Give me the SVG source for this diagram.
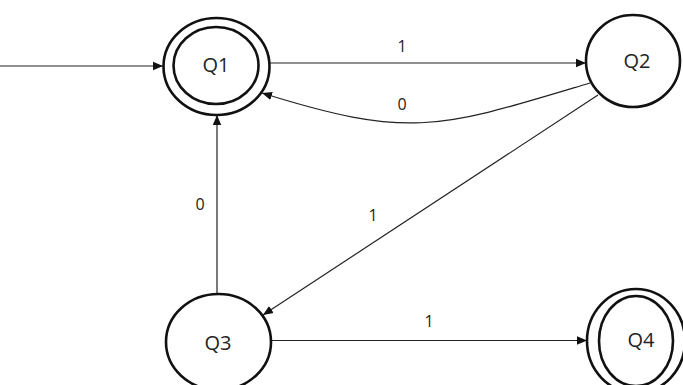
<svg xmlns="http://www.w3.org/2000/svg" width="683" height="385" viewBox="0 0 683 385">
  <style>
    .state { fill: none; stroke: #111; stroke-width: 2.6; }
    .name { font-family: "Open Sans", "DejaVu Sans", sans-serif; font-size: 20px; fill: #222; text-anchor: middle; }
    .edge { fill: none; stroke: #222; stroke-width: 1.2; marker-end: url(#arrow); }
    .label { font-family: "Open Sans", "DejaVu Sans", sans-serif; font-size: 16px; fill: #222; text-anchor: middle; }
  </style>
  <defs>
    <marker id="arrow" viewBox="0 0 10 10" refX="10" refY="5" markerWidth="10" markerHeight="10" markerUnits="userSpaceOnUse" orient="auto">
      <path d="M0,0.8 L10,5 L0,9.2 Z" fill="#111"/>
    </marker>
  </defs>
  <rect width="683" height="385" fill="#fff"/>

  <g id="connectors">
    <!-- start arrow into Q1 -->
    <line class="edge" x1="0" y1="66" x2="163" y2="66"/>
    <!-- Q1 -> Q2 on 1 -->
    <line class="edge" x1="270" y1="63" x2="586" y2="63"/>
    <text class="label" x="402" y="52">1</text>
    <!-- Q2 -> Q1 on 0 -->
    <path class="edge" d="M590,83 C440,128 412,140 262,93"/>
    <text class="label" x="402" y="110">0</text>
    <!-- Q2 -> Q3 on 1 -->
    <line class="edge" x1="598" y1="95" x2="263" y2="315"/>
    <text class="label" x="373" y="221">1</text>
    <!-- Q3 -> Q1 on 0 -->
    <line class="edge" x1="217" y1="294" x2="217" y2="115"/>
    <text class="label" x="200" y="210">0</text>
    <!-- Q3 -> Q4 on 1 -->
    <line class="edge" x1="271" y1="340.5" x2="587" y2="340.5"/>
    <text class="label" x="429" y="327">1</text>
  </g>

  <g id="Q1">
    <ellipse class="state" cx="216.5" cy="66.5" rx="53" ry="48.5"/>
    <ellipse class="state" cx="216" cy="65.5" rx="42.5" ry="38.5"/>
    <text class="name" x="216" y="72">Q1</text>
  </g>
  <g id="Q2">
    <ellipse class="state" cx="633" cy="61" rx="47" ry="46"/>
    <text class="name" x="637" y="68">Q2</text>
  </g>
  <g id="Q3">
    <ellipse class="state" cx="218.5" cy="342" rx="52.5" ry="48"/>
    <text class="name" x="218" y="350">Q3</text>
  </g>
  <g id="Q4">
    <ellipse class="state" cx="636" cy="341" rx="49" ry="52"/>
    <ellipse class="state" cx="636" cy="341" rx="37" ry="45"/>
    <text class="name" x="641" y="347">Q4</text>
  </g>
</svg>
